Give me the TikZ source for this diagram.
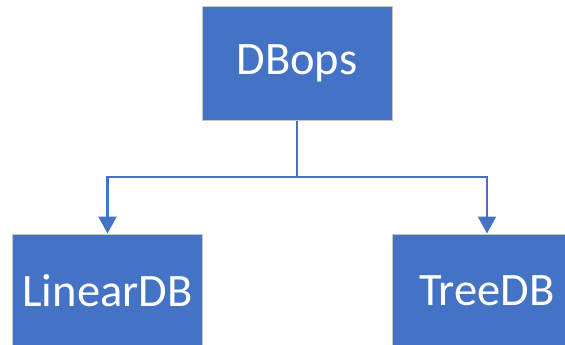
\documentclass[tikz,border=0pt]{standalone}
\usepackage{fontspec}
\setmainfont{Carlito}
\usepackage{tikz}
\usetikzlibrary{arrows.meta}
\definecolor{boxblue}{HTML}{4472C4}

\begin{document}
\begin{tikzpicture}[x=1pt, y=-1pt,
    dbbox/.style={rectangle, fill=boxblue, draw=black!22, line width=1pt,
        minimum width=190pt, minimum height=113pt, inner sep=0pt,
        text=white, font=\fontsize{46.5}{52}\selectfont},
    link/.style={draw=boxblue, line width=2.2pt, -{Triangle[width=18pt,length=17pt]}}]
            % Cadre
            \clip (0,0) rectangle (565,345);
            \useasboundingbox (0,0) rectangle (565,345);

            % Boites
            \node[dbbox] (dbops) at (297,63.5) {DBops};
            \node[dbbox] (linear) at (107.5,290.5) {LinearDB};
            \node[dbbox] (tree) at (487,290.5) {TreeDB};

            % Liens
            \coordinate (fork) at (297,177);
            \draw[line width=2.2pt, boxblue] (dbops.south) -- (fork);
            \draw[link] (fork) -| (linear.north);
            \draw[link] (fork) -| (tree.north);
        \end{tikzpicture}
\end{document}
